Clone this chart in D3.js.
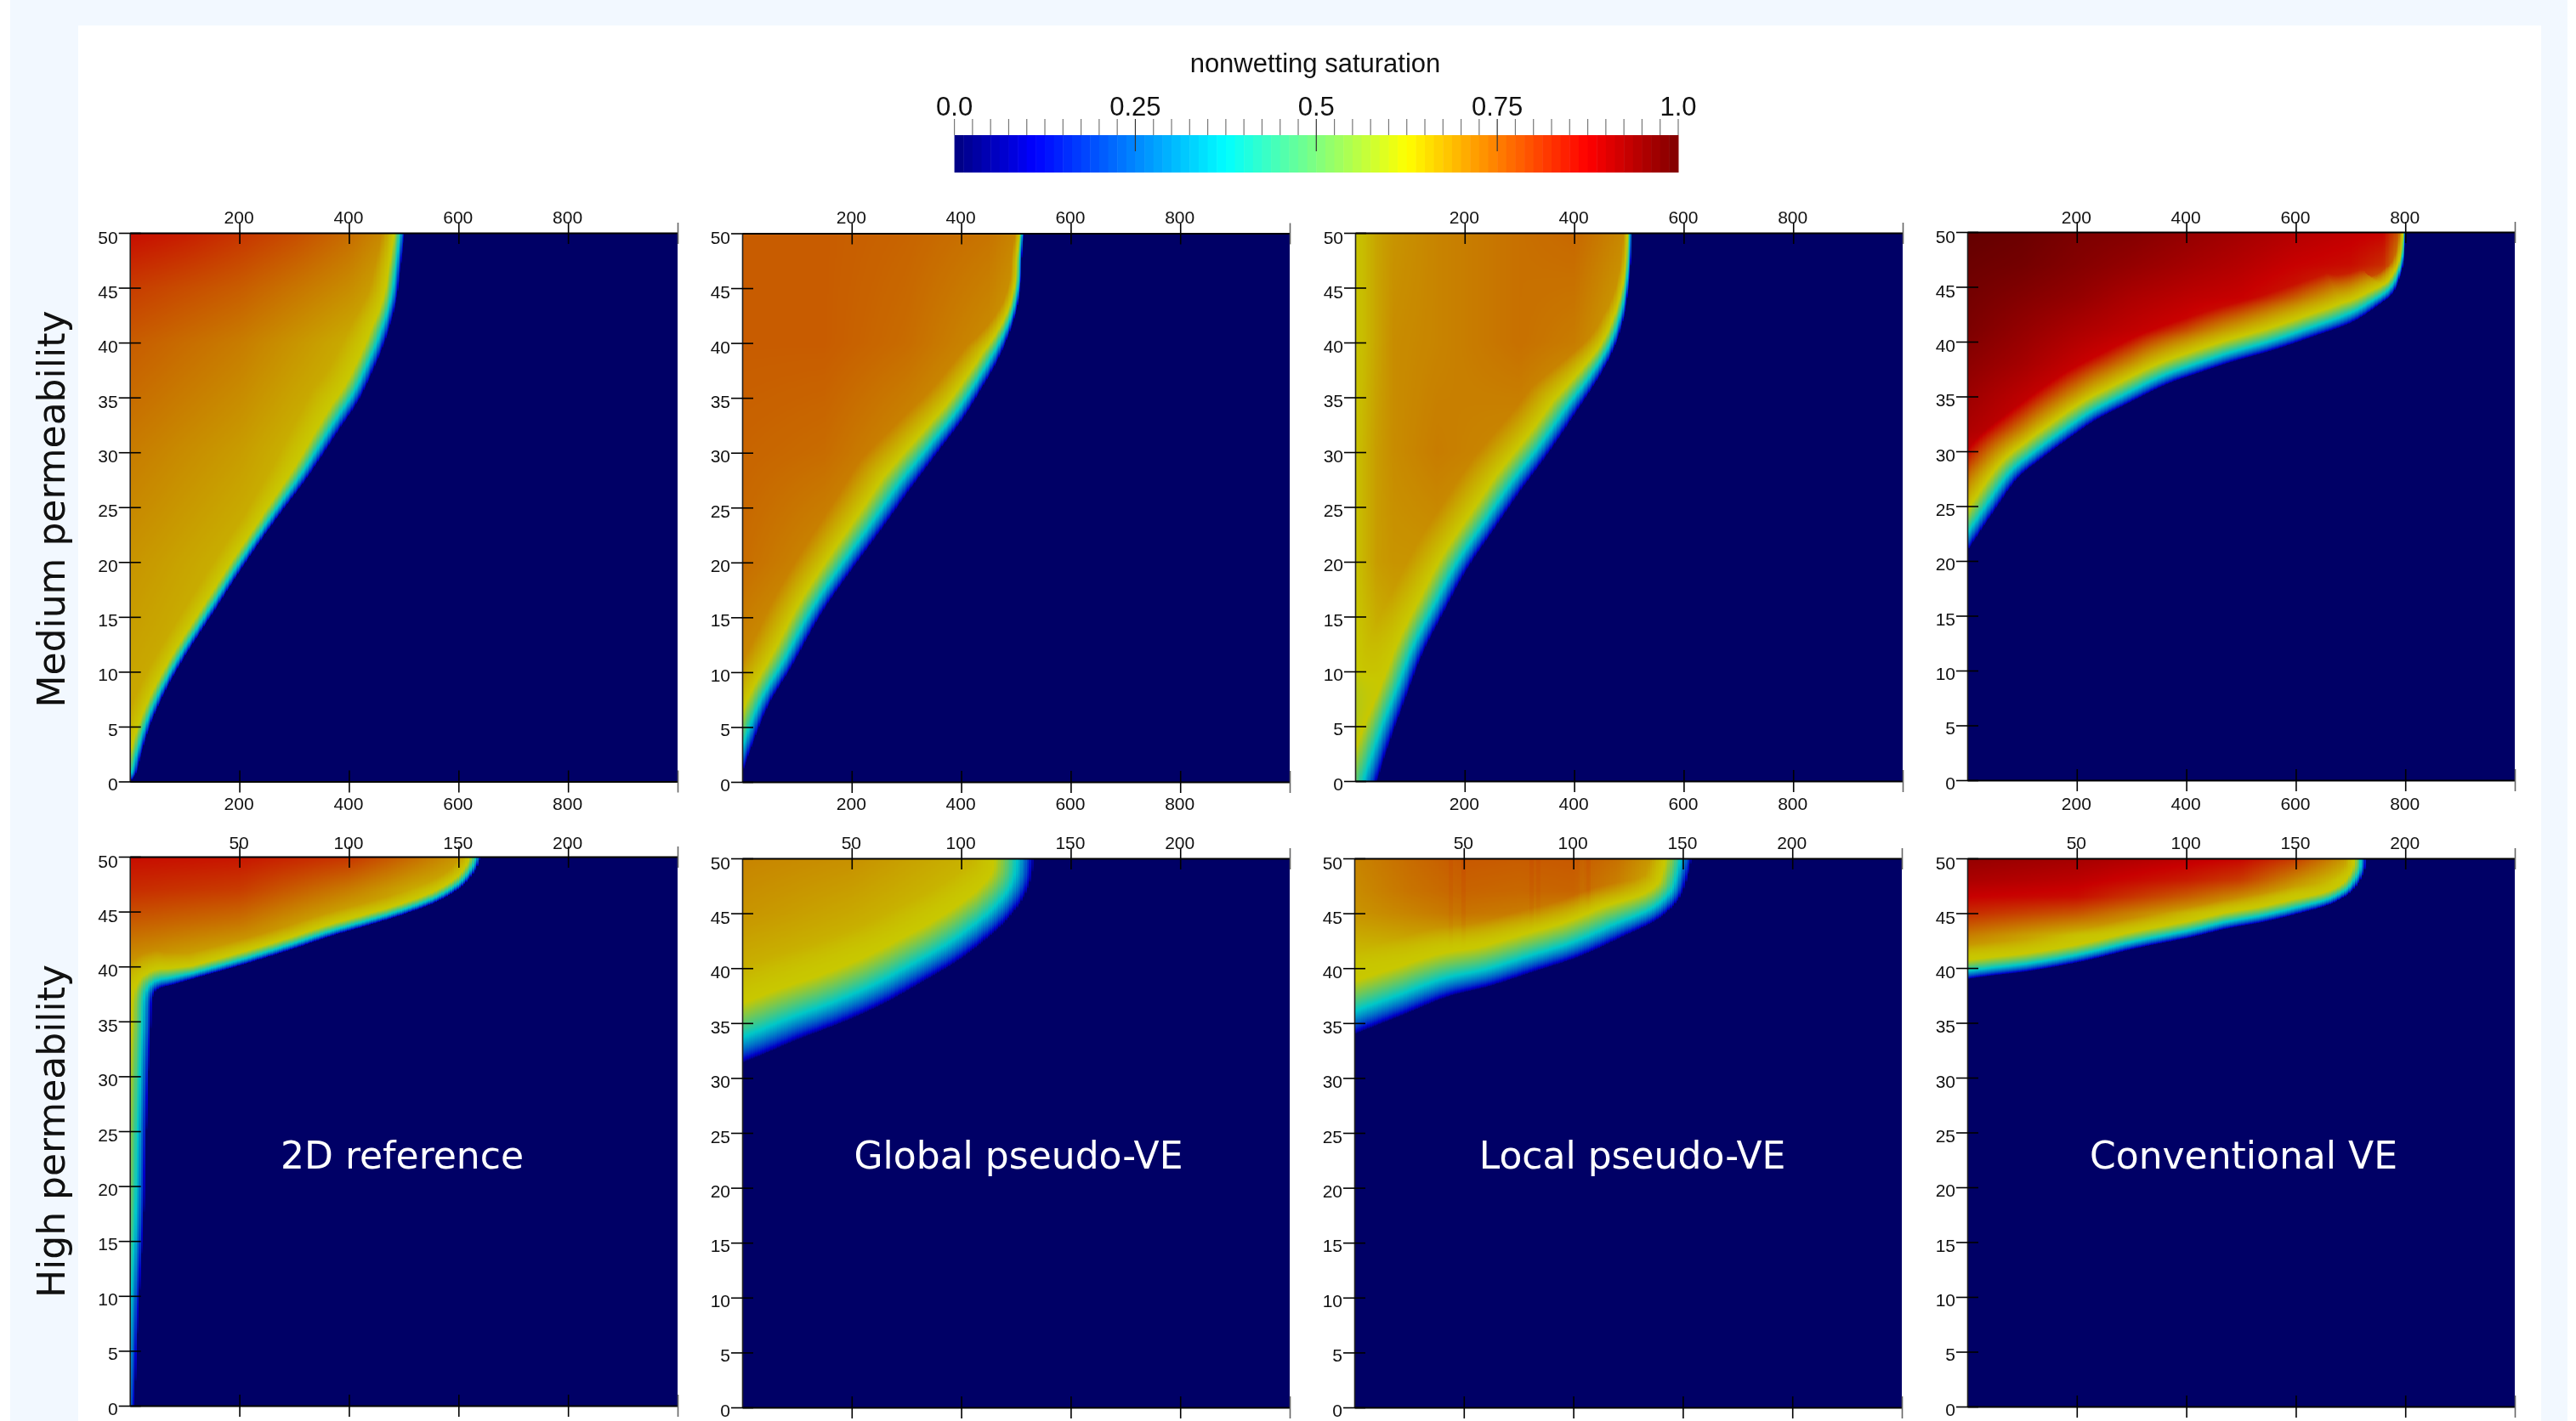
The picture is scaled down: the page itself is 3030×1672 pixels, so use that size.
<!DOCTYPE html>
<html><head><meta charset="utf-8">
<script src="https://cdn.jsdelivr.net/npm/d3@7"></script>
<style>
html,body{margin:0;padding:0;background:#fff;width:3030px;height:1672px;overflow:hidden}
svg,canvas{position:absolute}
text{font-family:"Liberation Sans",sans-serif}
</style></head><body>
<script>
// ---------- labels ----------
const rowLabels = ["Medium permeability", "High permeability"];
const modelLabels = ["2D reference", "Global pseudo-VE", "Local pseudo-VE", "Conventional VE"];
const legendTitle = "nonwetting saturation";
const legendMajor = [0, 0.25, 0.5, 0.75, 1];
const legendMajorText = ["0.0", "0.25", "0.5", "0.75", "1.0"];
const depthTicks = [0, 5, 10, 15, 20, 25, 30, 35, 40, 45, 50];
const mediumXTicks = [200, 400, 600, 800, 1000];
const highXTicks = [50, 100, 150, 200, 250];

// ---------- colour stops ----------
const jetStops = [0, 0.11, 0.375, 0.625, 0.875, 1];
const legendColors = ["#000080", "#0000ff", "#00ffff", "#ffff00", "#ff0000", "#800000"];
const fieldColors = ["#000066", "#0000c8", "#00c8c8", "#c8c800", "#c80000", "#640000"];

// ---------- plume front curves, read as [x, depth] ----------
const frontMed2D = [[501,50],[494,46.8],[486,43.8],[468,40.5],[444,37.5],[418,34.8],[378,31.8],[325,27.8],[265,23.8],[205,19.5],[152,15.4],[99,11.3],[62,8],[36,5],[20,2.4],[10,0.6],[0,0]];
const frontMedGlobal = [[514,50],[511,47.8],[509,45.5],[501,43],[487,40.8],[467,38.5],[441,36.2],[404,33.2],[365,30.6],[311,27],[258,23.3],[199,19.3],[145,15.4],[92,10.7],[46,6.8],[0,0.8]];
const frontMedLocal = [[505,50],[503,47],[498,44.4],[490,42.1],[473,39.5],[446,36.9],[403,33.6],[357,30.2],[304,26.6],[257,23.2],[204,19.3],[164,15.6],[124,11.7],[91,7.4],[64,3.7],[40,0]];
const frontMedConv = [[800,50],[798,47.8],[793,46.3],[777,44.4],[750,43.3],[704,41.8],[634,40.5],[557,39.2],[480,38.1],[426,37.2],[364,36.1],[287,34.2],[233,32.8],[178,30.9],[132,29.2],[93,27.6],[47,24.4],[24,22.7],[0,20.9]];
const frontHigh2D = [[160,50],[158,48.9],[152,47.4],[141,46],[125.6,44.8],[107.8,43.7],[92.2,42.8],[74.4,41.6],[52,40.2],[34.3,39.2],[18.7,38.3],[13.1,38],[10.9,37.5],[9.4,34],[7.6,25.7],[6.5,17.6],[4.2,9.4],[2,0]];
const frontHighGlobal = [[133,50],[132,48.2],[128.4,46.4],[120.4,44.3],[110.5,42.5],[98.6,40.7],[82.7,38.8],[64.9,36.8],[45,35],[25.2,33.5],[11.3,32.3],[0,31.4]];
const frontHighLocal = [[154,50],[152,48.2],[148.5,46.4],[139.6,44.6],[121.8,42.8],[102,41],[82.2,39.7],[62.4,38.4],[42.6,37.4],[22.8,35.8],[0,34]];
const frontHighConv = [[182,50],[181.6,49],[179,47.9],[175,46.9],[166.7,45.9],[151.8,45],[135.3,44.2],[118.7,43.6],[102,42.8],[77.3,41.8],[52.5,40.6],[27.6,39.7],[11,39.3],[0,39]];

// ---------- thickness of the front band, by the x of the nearest front point ----------
const bandMed2D = [[0,250,400,470,501],[13,15,24,20,12]];
const bandMedGlobal = [[0,300,400,467,500,514],[24,34,26,20,10,5]];
const bandMedLocal = [[0,100,300,400,446,490,505],[40,32,34,30,22,12,5]];
const bandMedConv = [[0,700,777,793,800],[27,26,16,8,3]];
const bandHigh2D = [[0,15,30,160],[26,22,15,12]];
const bandHighGlobal = [[0,60,100,120,133],[66,60,55,50,46]];
const bandHighLocal = [[0,60,120,150],[60,48,42,30]];
const bandHighConv = [[0,150,175,182],[22,18,14,14]];

// ---------- saturation read inside each plume ----------
const gridMed2D = {x:[0,100,200,300,400,500], z:[50,45,40,30,20,10,0], s:[
 [.86,.84,.81,.78,.74,.68],[.80,.78,.76,.73,.70,.65],[.76,.74,.72,.69,.66,.63],
 [.72,.70,.68,.65,.63,.63],[.69,.67,.65,.63,.63,.63],[.67,.65,.63,.63,.63,.63],[.66,.63,.63,.63,.63,.63]]};
const gridMedGlobal = {x:[0,150,300,450,520], z:[50,40,30,20,10,0], s:[
 [.76,.76,.75,.73,.70],[.76,.76,.74,.70,.66],[.75,.74,.70,.65,.63],
 [.74,.70,.65,.63,.63],[.70,.65,.63,.63,.63],[.65,.63,.63,.63,.63]]};
const gridMedLocal = {x:[0,15,40,70,150,300,400,500], z:[50,40,30,20,10,3,0], s:[
 [.63,.64,.67,.69,.71,.735,.745,.70],[.63,.64,.67,.70,.71,.735,.72,.66],[.63,.65,.68,.70,.72,.70,.64,.63],
 [.63,.65,.68,.69,.69,.64,.63,.63],[.62,.63,.64,.65,.63,.63,.63,.63],[.50,.52,.53,.55,.63,.63,.63,.63],[.40,.42,.42,.42,.63,.63,.63,.63]]};
const gridMedConv = {x:[0,100,200,300,400,500,600,700,760,800], z:[50,47,44,41,38,35,32,29,26,23,20], s:[
 [1.0,.99,.97,.96,.94,.92,.90,.885,.875,.72],[.99,.98,.96,.94,.92,.90,.875,.86,.82,.63],[.98,.96,.94,.91,.89,.875,.84,.76,.63,.63],
 [.97,.94,.91,.885,.86,.80,.70,.63,.63,.63],[.95,.92,.88,.84,.72,.63,.63,.63,.63,.63],[.93,.89,.85,.72,.63,.63,.63,.63,.63,.63],
 [.91,.87,.78,.63,.63,.63,.63,.63,.63,.63],[.87,.80,.63,.63,.63,.63,.63,.63,.63,.63],[.80,.63,.63,.63,.63,.63,.63,.63,.63,.63],
 [.70,.63,.63,.63,.63,.63,.63,.63,.63,.63],[.63,.63,.63,.63,.63,.63,.63,.63,.63,.63]]};
const gridHigh2D = {x:[0,50,100,130,160], z:[50,47,44,41,38], s:[
 [.86,.85,.81,.74,.66],[.82,.80,.72,.66,.63],[.76,.73,.64,.63,.63],[.70,.65,.63,.63,.63],[.64,.63,.63,.63,.63]]};
const gridHighGlobal = {x:[0,50,100,135], z:[50,45,40,35], s:[
 [.71,.695,.655,.63],[.69,.665,.63,.63],[.655,.63,.63,.63],[.63,.63,.63,.63]]};
const gridHighLocal = {x:[0,25,50,75,100,120,140,155], z:[50,47,45,42,40], s:[
 [.71,.74,.765,.76,.765,.735,.67,.63],[.70,.73,.75,.745,.75,.71,.64,.63],[.69,.71,.73,.72,.70,.66,.63,.63],
 [.65,.655,.645,.635,.63,.63,.63,.63],[.63,.63,.63,.63,.63,.63,.63,.63]]};
const gridHighConv = {x:[0,50,100,125,150,170,182], z:[50,48,46.5,45,43,41,39], s:[
 [.94,.92,.89,.87,.80,.70,.63],[.91,.89,.84,.80,.70,.63,.63],[.875,.86,.76,.70,.63,.63,.63],
 [.82,.77,.66,.63,.63,.63,.63],[.72,.64,.63,.63,.63,.63,.63],[.64,.63,.63,.63,.63,.63,.63],[.63,.63,.63,.63,.63,.63,.63]]};
const streaksHighLocal = [[44,.008],[50,.01],[81,.01],[84,.008],[104,-.005],[107,.01]];

// ---------- panels ----------
const panels = [
 {row:0,col:0,max:1000,ticks:mediumXTicks,cell:2,box:[152.7,797,274,919.5],front:frontMed2D,band:bandMed2D,grid:gridMed2D,blend:1.2},
 {row:0,col:1,max:1000,ticks:mediumXTicks,cell:2,box:[873,1517,274.5,920],front:frontMedGlobal,band:bandMedGlobal,grid:gridMedGlobal,blend:1},
 {row:0,col:2,max:1000,ticks:mediumXTicks,cell:2,box:[1594,2238,274,919],front:frontMedLocal,band:bandMedLocal,grid:gridMedLocal,blend:1},
 {row:0,col:3,max:1000,ticks:mediumXTicks,cell:2,box:[2314,2958,273,918],front:frontMedConv,band:bandMedConv,grid:gridMedConv,blend:1.5},
 {row:1,col:0,max:250,ticks:highXTicks,cell:1,box:[152.7,797,1008,1654],front:frontHigh2D,band:bandHigh2D,grid:gridHigh2D,blend:1},
 {row:1,col:1,max:250,ticks:highXTicks,cell:1,box:[873,1517,1010,1656],front:frontHighGlobal,band:bandHighGlobal,grid:gridHighGlobal,blend:.6},
 {row:1,col:2,max:250,ticks:highXTicks,cell:1,box:[1593,2237,1010,1656],front:frontHighLocal,band:bandHighLocal,grid:gridHighLocal,blend:.6,streaks:streaksHighLocal},
 {row:1,col:3,max:250,ticks:highXTicks,cell:1,box:[2314,2958,1010,1655],front:frontHighConv,band:bandHighConv,grid:gridHighConv,blend:.8}
];

const W = 3030, H = 1672;
const jet = d3.scaleLinear().domain(jetStops).range(legendColors).clamp(true);
const fieldColor = d3.scaleLinear().domain(jetStops).range(fieldColors).clamp(true);
const lut = d3.range(1025).map(i => d3.rgb(fieldColor(i / 1024)));
const edgeShape = d3.scalePow().exponent(0.6).domain([0,1]).range([0,0.625]);

// background layer
const bg = d3.select("body").append("svg").attr("width", W).attr("height", H).style("left",0).style("top",0);
bg.append("rect").attr("x",12).attr("y",0).attr("width",3008).attr("height",H).attr("fill","#f2f8ff");
bg.append("rect").attr("x",92).attr("y",30).attr("width",2897).attr("height",H-30).attr("fill","#ffffff");

function drawField(p) {
  const [x0,x1,y0,y1] = p.box, w = Math.round(x1-x0), h = Math.round(y1-y0);
  const xs = d3.scaleLinear().domain([0,p.max]).range([0,x1-x0]);
  const zs = d3.scaleLinear().domain([0,50]).range([y1-y0,0]);
  const cv = d3.select("body").append("canvas").attr("width",w).attr("height",h)
    .style("left",x0+"px").style("top",y0+"px");
  const ctx = cv.node().getContext("2d");
  const img = ctx.createImageData(w,h), data = img.data;
  const nav = lut[0];
  for (let i=0;i<w*h;i++){data[4*i]=nav.r;data[4*i+1]=nav.g;data[4*i+2]=nav.b;data[4*i+3]=255;}

  // smooth the read front with a D3 curve and sample it
  const line = d3.line().x(d=>xs(d[0])).y(d=>zs(d[1])).curve(d3.curveCatmullRom.alpha(0.5));
  const path = document.createElementNS("http://www.w3.org/2000/svg","path");
  path.setAttribute("d", line(p.front));
  const len = path.getTotalLength(), n = Math.ceil(len/5);
  const curve = d3.range(n+1).map(i => { const q = path.getPointAtLength(len*i/n); return [q.x,q.y]; });
  const last = curve[curve.length-1], first = curve[0];
  const poly = curve.concat([[-10,last[1]],[-10,-10],[first[0],-10]]);
  const maxPx = d3.max(curve,d=>d[0]) + 1, maxPy = d3.max(curve,d=>d[1]) + 1;

  const band = d3.scaleLinear().domain(p.band[0]).range(p.band[1]).clamp(true);
  const gx = d3.scaleLinear().domain(p.grid.x).range(d3.range(p.grid.x.length)).clamp(true);
  const gz = d3.scaleLinear().domain(p.grid.z).range(d3.range(p.grid.z.length)).clamp(true);
  const gs = p.grid.s;
  function interior(x,z){
    const a=gx(x), b=gz(z), i=Math.min(Math.floor(a),gs[0].length-2), j=Math.min(Math.floor(b),gs.length-2);
    const u=a-i, v=b-j;
    return (gs[j][i]*(1-u)+gs[j][i+1]*u)*(1-v)+(gs[j+1][i]*(1-u)+gs[j+1][i+1]*u)*v;
  }
  for (let v=0; v<p.max; v+=p.cell) {
    const a=Math.round(xs(v)), b=Math.min(w,Math.round(xs(v+p.cell)));
    const pxc=xs(v+p.cell/2), xc=v+p.cell/2;
    if (pxc>maxPx) break;
    let extra=0;
    if (p.streaks) for (const s of p.streaks) if (Math.abs(s[0]-xc)<=p.cell) extra=s[1];
    for (let py=0; py<h && py<maxPy; py++) {
      const pyc=py+0.5;
      if (!d3.polygonContains(poly,[pxc,pyc])) continue;
      let dmin=1e12, nearX=0;
      for (let k=0;k<curve.length-1;k++){
        const ax=curve[k][0],ay=curve[k][1],dx=curve[k+1][0]-ax,dy=curve[k+1][1]-ay;
        const l2=dx*dx+dy*dy||1; let t=((pxc-ax)*dx+(pyc-ay)*dy)/l2; t=t<0?0:t>1?1:t;
        const qx=ax+t*dx, ex=qx-pxc, ey=ay+t*dy-pyc, d2=ex*ex+ey*ey;
        if(d2<dmin){dmin=d2;nearX=qx;}
      }
      const t=Math.sqrt(dmin)/band(xs.invert(nearX));
      let S;
      if (t<1) S=edgeShape(t);
      else { const f=Math.min(1,(t-1)/p.blend); S=0.625+(interior(xc,zs.invert(pyc))+extra-0.625)*f; }
      const c=lut[Math.max(0,Math.min(1024,Math.round(S*1024)))];
      for (let q=a;q<b;q++){const o=4*(py*w+q);data[o]=c.r;data[o+1]=c.g;data[o+2]=c.b;}
    }
  }
  ctx.putImageData(img,0,0);
}
panels.forEach(drawField);

// foreground layer
const fg = d3.select("body").append("svg").attr("width",W).attr("height",H).style("left",0).style("top",0);

panels.forEach(p => {
  const [x0,x1,y0,y1] = p.box;
  const x = d3.scaleLinear().domain([0,p.max]).range([x0,x1]);
  const y = d3.scaleLinear().domain([0,50]).range([y1,y0]);
  const topBase = p.row===0 ? 263 : 999;
  const fmt = d => d===p.max ? "" : d;

  const styleX = (g, up, down) => {
    g.select(".domain").attr("stroke","#000").attr("stroke-width",2.2);
    g.selectAll(".tick line").attr("stroke",d=>d===p.max?"#666":"#000").attr("stroke-width",1.6).attr("y1",up).attr("y2",down);
    g.selectAll(".tick text").attr("font-size",21).attr("font-family","Liberation Sans").attr("fill","#111").attr("dy",0).attr("dx",-1);
  };
  const top = fg.append("g").attr("transform",`translate(0,${y0})`)
    .call(d3.axisTop(x).tickValues(p.ticks).tickFormat(fmt).tickSizeOuter(0));
  styleX(top,-12,13);
  top.selectAll(".tick text").attr("y",topBase-y0);

  const bottom = fg.append("g").attr("transform",`translate(0,${y1})`)
    .call(d3.axisBottom(x).tickValues(p.ticks).tickFormat(p.row===0?fmt:"").tickSizeOuter(0));
  styleX(bottom,-13,13);
  bottom.selectAll(".tick text").attr("y",953-y1);

  const left = fg.append("g").attr("transform",`translate(${x0},0)`)
    .call(d3.axisLeft(y).tickValues(depthTicks).tickSizeOuter(0));
  left.select(".domain").attr("stroke","#222").attr("stroke-width",1.6);
  left.selectAll(".tick line").attr("stroke","#000").attr("stroke-width",1.6).attr("x1",-13).attr("x2",13);
  left.selectAll(".tick text").attr("font-size",21).attr("font-family","Liberation Sans").attr("fill","#111")
    .attr("x",-14).attr("dy",0).attr("y",d=>10+2*d/50);
});

// white model labels
const labelCentres = [473, 1198, 1920, 2639];
fg.selectAll(".model").data(modelLabels).join("text").attr("class","model")
  .attr("x",(d,i)=>labelCentres[i]).attr("y",1375).attr("text-anchor","middle")
  .attr("fill","#fff").attr("font-size",44).style("font-family","DejaVu Sans").text(d=>d);

// row labels
const rowCentres = [599, 1331];
fg.selectAll(".rowlabel").data(rowLabels).join("text").attr("class","rowlabel")
  .attr("transform",(d,i)=>`translate(76,${rowCentres[i]}) rotate(-90)`).attr("text-anchor","middle")
  .attr("fill","#111").attr("font-size",44).style("font-family","DejaVu Sans").text(d=>d);

// legend
const lx = d3.scaleLinear().domain([0,1]).range([1122.6,1974]);
const nBands = 80;
fg.append("g").selectAll("rect").data(d3.range(nBands)).join("rect")
  .attr("x",d=>lx(d/nBands)).attr("width",d=>lx((d+1)/nBands)-lx(d/nBands)+0.5)
  .attr("y",159).attr("height",44).attr("fill",d=>jet((d+0.5)/nBands));
fg.append("g").selectAll("line").data(d3.range(41)).join("line")
  .attr("x1",d=>lx(d/40)).attr("x2",d=>lx(d/40)).attr("y1",140)
  .attr("y2",d=>(d%10===0 && d>0 && d<40)?178:159)
  .attr("stroke",d=>(d%10===0 && d>0 && d<40)?"#333":"#777").attr("stroke-width",1.2);
fg.append("g").selectAll("text").data(legendMajor).join("text")
  .attr("x",d=>lx(d)).attr("y",136).attr("text-anchor","middle").attr("font-size",31).attr("fill","#111")
  .text((d,i)=>legendMajorText[i]);
fg.append("text").attr("x",1547).attr("y",85).attr("text-anchor","middle").attr("font-size",31).attr("fill","#111").text(legendTitle);
</script>
</body></html>
